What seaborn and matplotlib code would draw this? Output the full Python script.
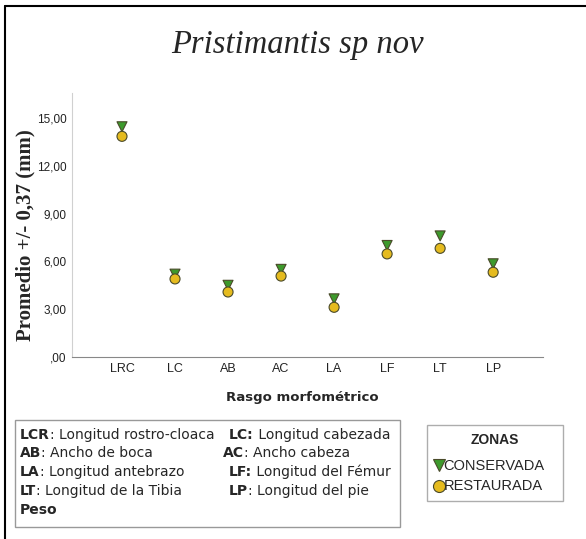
import pandas as pd
import seaborn as sns
import matplotlib.pyplot as plt
from matplotlib.lines import Line2D
from matplotlib.patches import Rectangle

# Data
rasgos = ['LRC', 'LC', 'AB', 'AC', 'LA', 'LF', 'LT', 'LP']
conservada = [14.45, 5.2, 4.5, 5.5, 3.65, 7.0, 7.6, 5.85]
restaurada = [13.85, 4.9, 4.08, 5.08, 3.12, 6.47, 6.82, 5.32]
zonas = ['CONSERVADA', 'RESTAURADA']
yticks = [0, 3, 6, 9, 12, 15]
ytick_labels = [',00', '3,00', '6,00', '9,00', '12,00', '15,00']

df = pd.DataFrame({
    'rasgo': rasgos * 2,
    'valor': conservada + restaurada,
    'zona': [zonas[0]] * len(rasgos) + [zonas[1]] * len(rasgos),
})

narrow = ['Liberation Sans', 'DejaVu Sans']

sns.set_style('white')
fig = plt.figure(figsize=(5.86, 5.39), dpi=100)
W, H = 586, 539
ax = fig.add_axes([72 / W, 1 - 357 / H, (543 - 72) / W, (357 - 93) / H])

sns.scatterplot(data=df, x='rasgo', y='valor', hue='zona', style='zona',
                palette={'CONSERVADA': '#3d9a2c', 'RESTAURADA': '#e5bb1f'},
                markers={'CONSERVADA': 'v', 'RESTAURADA': 'o'},
                s=52, edgecolor='#4a4a2a', linewidth=0.8, ax=ax, zorder=3)

ax.set_xlim(-0.943, 7.94)
ax.set_ylim(0, 16.57)
ax.set_yticks(yticks)
ax.set_yticklabels(ytick_labels, family=narrow, fontsize=8.5, color='#222222')
for lbl in ax.get_xticklabels():
    lbl.set_family(narrow)
    lbl.set_fontsize(9)
    lbl.set_color('#222222')
ax.tick_params(length=0, pad=4)
for side in ['top', 'right']:
    ax.spines[side].set_visible(False)
ax.spines['left'].set_color('#d0d0d0')
ax.spines['bottom'].set_color('#888888')
ax.set_xlabel('')
ax.set_ylabel('')

fig.text(297 / W, 1 - 45 / H, 'Pristimantis sp nov', family='Liberation Serif',
         style='italic', fontsize=23.5, ha='center', va='center')
fig.text(25 / W, 1 - 235 / H, 'Promedio +/- 0,37 (mm)', family='Liberation Serif',
         weight='bold', fontsize=15, rotation=90, ha='center', va='center')
fig.text(302 / W, 1 - 397 / H, 'Rasgo morfométrico', weight='bold',
         fontsize=9.5, ha='center', va='center')

# legend of zones
sns.move_legend(ax, 'upper left', bbox_to_anchor=(427 / W, 1 - 502 / H, 136 / W, 77 / H),
                bbox_transform=fig.transFigure, mode='expand', borderaxespad=0,
                title='ZONAS', frameon=True, fancybox=False, handletextpad=0.05,
                handlelength=0.6, labelspacing=0.45, markerscale=1.2, borderpad=0.55)
leg = ax.get_legend()
leg.get_frame().set_edgecolor('#999999')
leg.get_frame().set_linewidth(1.0)
leg.get_title().set_fontweight('bold')
leg.get_title().set_fontsize(10)
leg.get_title().set_family(narrow)
leg._legend_box.sep = 9
for t in leg.get_texts():
    t.set_family(narrow)
    t.set_fontsize(10.5)

# abbreviation box
fig.add_artist(Rectangle((15 / W, 1 - 527 / H), 385 / W, 107 / H,
                         transform=fig.transFigure, fill=False,
                         edgecolor='#999999', linewidth=1.0))
abbrevs = [
    ('LCR', ': Longitud rostro-cloaca', 20, 435),
    ('LC:', ' Longitud cabezada', 229, 435),
    ('AB', ': Ancho de boca', 20, 453),
    ('AC', ': Ancho cabeza', 223, 453),
    ('LA', ': Longitud antebrazo', 20, 472),
    ('LF:', ' Longitud del Fémur', 229, 472),
    ('LT', ': Longitud de la Tibia', 20, 491),
    ('LP', ': Longitud del pie', 229, 491),
    ('Peso', '', 20, 510),
]
for bold, rest, x, y in abbrevs:
    b = fig.text(x / W, 1 - y / H, bold, weight='bold', fontsize=10, va='center')
    if rest:
        ax.annotate(rest, xy=(1, 0.5), xycoords=b, va='center', fontsize=10,
                    annotation_clip=False)

# outer frame lines
fig.add_artist(Line2D([5 / W, 5 / W], [0, 1 - 6 / H], transform=fig.transFigure,
                      color='black', linewidth=1.5))
fig.add_artist(Line2D([5 / W, 1], [1 - 6 / H, 1 - 6 / H], transform=fig.transFigure,
                      color='black', linewidth=1.5))

fig.savefig('out.png', dpi=100)
